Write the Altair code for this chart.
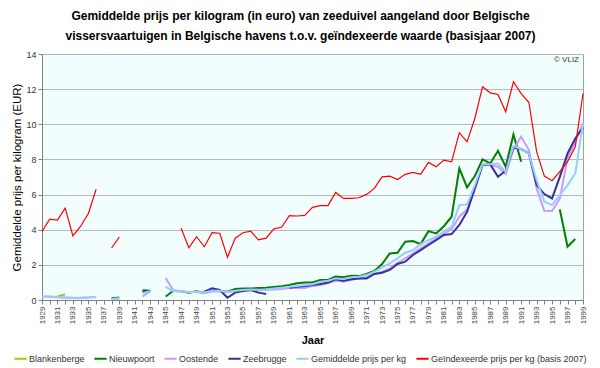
import altair as alt
import pandas as pd

years = list(range(1929, 2000))
N = None

blankenberge = [N, N, 0.2, 0.32] + [N] * 67

nieuwpoort = ([N] * 9 + [0.08, 0.15] + [N, N] + [0.55, 0.52] + [N]
              + [0.2, 0.53, 0.5, 0.42, 0.5, 0.4, 0.53, 0.53, 0.47, 0.63, 0.66, 0.66, 0.68, 0.7, 0.74,
                 0.78, 0.85, 0.95, 0.99, 1.0, 1.14, 1.14, 1.33, 1.29, 1.38, 1.36, 1.48, 1.65, 2.05,
                 2.65, 2.69, 3.32, 3.36, 3.18, 3.92, 3.79, 4.2, 4.74, 7.49, 6.41, 7.05, 8.0, 7.77,
                 8.49, 7.58, 9.42, 7.87, N, N, N, N, 5.16, 3.03, 3.47, N])

oostende = ([0.18, 0.18, 0.15, 0.13, 0.12, 0.12, 0.14, 0.17, N, 0.04, 0.09, N, N, 0.2, 0.5, N]
            + [1.25, 0.55, 0.5, 0.45, 0.45, 0.4, 0.48, 0.5, 0.45, 0.5, 0.52, 0.55, 0.55, 0.58, 0.6,
               0.62, 0.68, 0.68, 0.68, 0.8, 0.85, 0.95, 1.1, 1.04, 1.14, 1.23, 1.29, 1.48, 1.61,
               1.8, 2.12, 2.37, 2.65, 2.94, 3.22, 3.5, 3.79, 4.02, 4.74, 5.16, 6.26, 7.68, 7.68,
               7.58, 7.17, 8.57, 9.29, 8.53, 6.35, 5.08, 5.06, 5.78, 8.06, 9.0, 10.05])

zeebrugge = ([N] * 13 + [0.45, 0.5] + [N] * 6
             + [0.47, 0.66, 0.57, 0.13, 0.42, 0.51, 0.57, 0.42, 0.34, N, N, 0.7, 0.75, 0.8, 0.85,
                0.91, 0.99, 1.18, 1.1, 1.18, 1.23, 1.23, 1.48, 1.55, 1.71, 2.05, 2.18, 2.56, 2.84,
                3.13, 3.41, 3.7, 3.75, 4.27, 5.02, 6.35, 7.68, 7.72, 7.01, 7.36, 8.68, 8.59, 8.34,
                6.54, 6.03, 5.78, 7.01, 8.34, 9.19, 9.82])

gemiddelde = ([0.2, 0.2, 0.17, 0.15, 0.13, 0.13, 0.15, 0.17, N, 0.05, 0.1, N, N, 0.38, 0.5, N]
              + [0.75, 0.5, 0.5, 0.45, 0.45, 0.43, 0.52, 0.52, 0.45, 0.52, 0.57, 0.6, 0.58, 0.6, 0.65,
                 0.7, 0.75, 0.8, 0.85, 0.9, 1.04, 1.1, 1.23, 1.2, 1.29, 1.33, 1.42, 1.61, 1.84, 2.09,
                 2.37, 2.69, 2.84, 3.18, 3.41, 3.6, 3.89, 4.17, 5.4, 5.44, 6.54, 7.73, 7.72, 7.77,
                 7.3, 8.76, 8.59, 8.34, 6.82, 5.59, 5.4, 5.97, 6.54, 7.2, 10.05])

geindexeerd = ([3.9, 4.6, 4.55, 5.23, 3.65, 4.2, 4.92, 6.3, N, 2.96, 3.58] + [N] * 7
               + [4.08, 2.98, 3.6, 3.03, 3.83, 3.8, 2.43, 3.52, 3.83, 3.92, 3.42, 3.52, 4.05, 4.14,
                  4.8, 4.78, 4.82, 5.27, 5.37, 5.37, 6.12, 5.78, 5.78, 5.82, 6.01, 6.35, 7.01, 7.05,
                  6.86, 7.15, 7.26, 7.15, 7.83, 7.58, 7.96, 7.87, 9.52, 9.0, 10.33, 12.13, 11.79,
                  11.7, 10.71, 12.42, 11.75, 11.24, 8.44, 7.05, 6.79, 7.3, 7.87, 8.72, 11.75])

series_names = ["Blankenberge", "Nieuwpoort", "Oostende", "Zeebrugge",
                "Gemiddelde prijs per kg", "Geïndexeerde prijs per kg (basis 2007)"]
series_values = [blankenberge, nieuwpoort, oostende, zeebrugge, gemiddelde, geindexeerd]
series_colors = ["#99cc00", "#008000", "#cc99ff", "#333399", "#99ccff", "#ff0000"]

rows = []
for k, (name, vals) in enumerate(zip(series_names, series_values)):
    for y, v in zip(years, vals):
        rows.append({"Jaar": y, "Serie": name, "Prijs": v, "idx": k})
df = pd.DataFrame(rows)

FONT = "Liberation Sans"

lines = alt.Chart(df).mark_line().encode(
    x=alt.X("Jaar:Q",
            scale=alt.Scale(domain=[1929, 1999], nice=False, zero=False),
            axis=alt.Axis(values=years, grid=False, labelAngle=270, labelFontSize=8,
                          labelExpr="datum.value % 2 == 1 ? datum.label : ''",
                          format="d", labelColor="#444444", tickSize=4,
                          title="Jaar", titleFontSize=11, titleFontWeight="bold",
                          titlePadding=11, labelPadding=2, labelFont=FONT, titleFont=FONT)),
    y=alt.Y("Prijs:Q",
            scale=alt.Scale(domain=[0, 14], nice=False),
            axis=alt.Axis(values=list(range(0, 15, 2)), grid=True, gridColor="#b8b8b8",
                          labelFontSize=9, labelColor="#333333", tickSize=4,
                          title="Gemiddelde prijs per kilogram (EUR)", titleFontSize=11.5,
                          titleFontWeight="normal", titlePadding=3, labelFont=FONT,
                          titleFont=FONT)),
    color=alt.Color("Serie:N",
                    scale=alt.Scale(domain=series_names, range=series_colors),
                    legend=alt.Legend(orient="none", direction="horizontal", legendX=-29,
                                      legendY=297, title=None, symbolType="stroke",
                                      symbolStrokeWidth=2, symbolSize=150, labelFontSize=9,
                                      labelFont=FONT, columnPadding=5, labelOffset=1,
                                      labelColor="#333333", padding=0)),
    strokeWidth=alt.condition(alt.datum.Serie == series_names[5], alt.value(1.2), alt.value(2)),
    order=alt.Order("idx:Q"),
)

credit = alt.Chart(pd.DataFrame({"t": ["© VLIZ"]})).mark_text(
    fontSize=8, font=FONT, align="right", baseline="middle", color="#333333"
).encode(text="t:N", x=alt.value(537), y=alt.value(6))

chart = alt.layer(lines, credit).properties(
    width=541, height=246,
    autosize=alt.AutoSizeParams(type="none"),
    padding={"left": 34, "top": 46, "right": 9, "bottom": 66},
    title=alt.TitleParams(
        ["Gemiddelde prijs per kilogram (in euro) van zeeduivel aangeland door Belgische",
         "vissersvaartuigen in Belgische havens t.o.v. geïndexeerde waarde (basisjaar 2007)"],
        font=FONT, fontSize=12, fontWeight="bold", anchor="middle", dx=-12,
        offset=7, lineHeight=20, color="#000000"),
).configure_view(stroke="#a0a0a0", fill="#f2fdfd").configure_axis(
    domainColor="#808080", tickColor="#808080"
)

chart.save("out.html", embed_options={"renderer": "svg", "actions": False})
